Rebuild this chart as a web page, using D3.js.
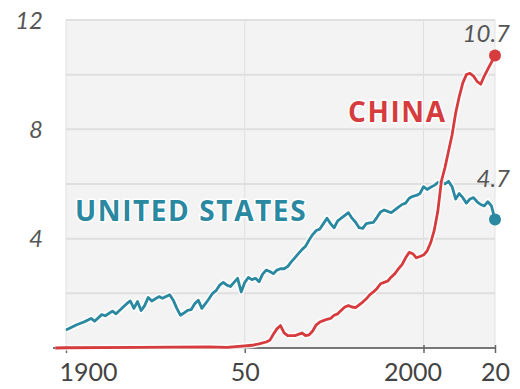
<!DOCTYPE html>
<html>
<head>
<meta charset="utf-8">
<script src="https://cdn.jsdelivr.net/npm/d3@7"></script>
<style>
  body { margin: 0; background: #fff; }
  svg { display: block; font-family: Lato, "Open Sans", sans-serif; }
</style>
</head>
<body>
<svg id="chart" width="520" height="389"></svg>
<script>
// CO2 emissions, billions of metric tons
var usYears = [1900,1903,1905,1907,1908,1910,1911,1913,1914,1916,1917,1918,1919,1920,1921,1922,1923,1924,1926,1927,1929,1930,1931,1932,1933,1934,1935,1936,1937,1938,1939,1940,1941,1942,1943,1944,1945,1946,1947,1948,1949,1950,1951,1952,1953,1954,1955,1956,1957,1958,1959,1960,1961,1962,1963,1964,1965,1966,1967,1968,1969,1970,1971,1972,1973,1974,1975,1976,1977,1978,1979,1980,1981,1982,1983,1984,1985,1986,1987,1988,1989,1990,1991,1992,1993,1994,1995,1996,1997,1998,1999,2000,2001,2002,2003,2004,2005,2006,2007,2008,2009,2010,2011,2012,2013,2014,2015,2016,2017,2018,2019,2020];
var usValues = [0.66,0.85,0.95,1.08,0.98,1.22,1.18,1.35,1.25,1.50,1.62,1.72,1.45,1.70,1.37,1.55,1.85,1.72,1.88,1.82,1.95,1.75,1.45,1.20,1.28,1.38,1.40,1.62,1.75,1.45,1.62,1.80,2.00,2.10,2.30,2.40,2.30,2.25,2.40,2.55,2.05,2.40,2.58,2.50,2.55,2.42,2.70,2.85,2.80,2.72,2.85,2.90,2.90,2.98,3.15,3.30,3.45,3.60,3.72,3.95,4.15,4.30,4.35,4.55,4.75,4.55,4.40,4.65,4.75,4.85,4.95,4.75,4.60,4.40,4.38,4.55,4.58,4.60,4.78,4.98,5.05,5.00,4.95,5.05,5.15,5.25,5.30,5.48,5.55,5.58,5.65,5.90,5.80,5.88,5.95,6.05,6.10,6.00,6.10,5.90,5.45,5.65,5.50,5.30,5.45,5.50,5.35,5.25,5.20,5.35,5.20,4.70];

var chinaYears = [1897,1900,1920,1930,1940,1945,1950,1952,1954,1956,1957,1958,1959,1960,1961,1962,1963,1964,1965,1966,1967,1968,1969,1970,1971,1972,1973,1974,1975,1976,1977,1978,1979,1980,1981,1982,1983,1984,1985,1986,1987,1988,1989,1990,1991,1992,1993,1994,1995,1996,1997,1998,1999,2000,2001,2002,2003,2004,2005,2006,2007,2008,2009,2010,2011,2012,2013,2014,2015,2016,2017,2018,2019,2020];
var chinaValues = [0,0.01,0.02,0.03,0.04,0.02,0.08,0.10,0.15,0.22,0.28,0.50,0.70,0.82,0.55,0.45,0.45,0.45,0.50,0.55,0.45,0.48,0.62,0.85,0.95,1.00,1.05,1.08,1.20,1.25,1.38,1.50,1.55,1.50,1.48,1.58,1.68,1.80,1.95,2.05,2.18,2.35,2.40,2.45,2.60,2.72,2.90,3.05,3.30,3.50,3.45,3.30,3.35,3.40,3.55,3.85,4.30,5.00,6.10,6.60,7.20,7.80,8.60,9.20,9.70,10.00,10.05,9.95,9.75,9.65,9.95,10.20,10.45,10.70];

var xTicks = [1900, 1950, 2000, 2020];
var xTickLabels = ["1900", "50", "2000", "20"];
var yTicks = [4, 8, 12];
var yGrid = [2, 4, 6, 8, 10, 12];

var svg = d3.select("#chart");

var x = d3.scaleLinear().domain([1900, 2020]).range([66, 495]);
var y = d3.scaleLinear().domain([0, 12]).range([348, 20]);

var usColor = "#2a88a0";
var chinaColor = "#d63b3d";

// plot background
svg.append("rect")
    .attr("x", x(1900))
    .attr("y", y(12))
    .attr("width", x(2020) - x(1900))
    .attr("height", y(0) - y(12))
    .style("fill", "#f3f3f3")
    .style("stroke", "#e2e2e2");

// horizontal grid
svg.append("g")
    .selectAll("line")
    .data(yGrid)
    .enter()
    .append("line")
    .attr("x1", x(1900))
    .attr("x2", x(2020))
    .attr("y1", d => y(d))
    .attr("y2", d => y(d))
    .style("stroke", "#dfdfdf")
    .style("stroke-width", 2);

// vertical grid
svg.append("g")
    .selectAll("line")
    .data([1950, 2000])
    .enter()
    .append("line")
    .attr("x1", d => x(d))
    .attr("x2", d => x(d))
    .attr("y1", y(12))
    .attr("y2", y(0))
    .style("stroke", "#e0e0e0")
    .style("stroke-width", 1);

// x axis
var xAxis = svg.append("g")
    .attr("transform", "translate(0," + y(0) + ")")
    .call(d3.axisBottom(x)
        .tickValues(xTicks)
        .tickFormat((d, i) => xTickLabels[i])
        .tickSizeInner(5)
        .tickSizeOuter(0)
        .tickPadding(10));

xAxis.select(".domain")
    .attr("d", "M53,0H" + x(2020))
    .style("stroke", "#777")
    .style("stroke-width", 2);
xAxis.selectAll(".tick line")
    .attr("y1", -3)
    .style("stroke", "#666")
    .style("stroke-width", 1.5);
xAxis.selectAll(".tick text")
    .style("font-family", "Lato, sans-serif")
    .style("font-size", "25px")
    .style("fill", "#444")
    .attr("dx", d => d === 1900 ? 22 : d === 2000 ? -11 : 0);

// y labels
svg.append("g")
    .selectAll("text")
    .data(yTicks)
    .enter()
    .append("text")
    .attr("x", 43)
    .attr("y", d => y(d))
    .attr("dy", "0.36em")
    .attr("text-anchor", "end")
    .style("font-size", "24px")
    .style("font-style", "italic")
    .style("fill", "#555")
    .text(d => d);

var usData = usYears.map((d, i) => ({year: d, value: usValues[i]}));
var chinaData = chinaYears.map((d, i) => ({year: d, value: chinaValues[i]}));

var line = d3.line()
    .x(d => x(d.year))
    .y(d => y(d.value));

function drawSeries(data, color) {
    svg.append("path")
        .datum(data)
        .attr("d", line)
        .style("fill", "none")
        .style("stroke", "#fff")
        .style("stroke-opacity", 0.8)
        .style("stroke-width", 6)
        .style("stroke-linejoin", "round");
    svg.append("path")
        .datum(data)
        .attr("d", line)
        .style("fill", "none")
        .style("stroke", color)
        .style("stroke-width", 2.8)
        .style("stroke-linejoin", "round");
    var last = data[data.length - 1];
    svg.append("circle")
        .attr("cx", x(last.year))
        .attr("cy", y(last.value))
        .attr("r", 6)
        .style("fill", color);
    return last;
}

var usLast = drawSeries(usData, usColor);
var chinaLast = drawSeries(chinaData, chinaColor);

// end value labels
svg.append("text")
    .attr("x", 510)
    .attr("y", 42)
    .attr("text-anchor", "end")
    .style("font-size", "24px")
    .style("font-style", "italic")
    .style("fill", "#555")
    .text(chinaLast.value.toFixed(1));

svg.append("text")
    .attr("x", 510)
    .attr("y", 187)
    .attr("text-anchor", "end")
    .style("font-size", "24px")
    .style("font-style", "italic")
    .style("fill", "#555")
    .text(usLast.value.toFixed(1));

// series names
svg.append("text")
    .attr("x", 75)
    .attr("y", 221)
    .style("font-family", "'Open Sans', sans-serif")
    .style("font-size", "28px")
    .style("font-weight", "bold")
    .style("letter-spacing", "1.6px")
    .style("fill", usColor)
    .style("paint-order", "stroke")
    .style("stroke", "#fff")
    .style("stroke-width", 3)
    .text("UNITED STATES");

svg.append("text")
    .attr("x", 348)
    .attr("y", 122)
    .style("font-family", "'Open Sans', sans-serif")
    .style("font-size", "28px")
    .style("font-weight", "bold")
    .style("letter-spacing", "1.6px")
    .style("fill", chinaColor)
    .style("paint-order", "stroke")
    .style("stroke", "#fff")
    .style("stroke-width", 3)
    .text("CHINA");
</script>
</body>
</html>
